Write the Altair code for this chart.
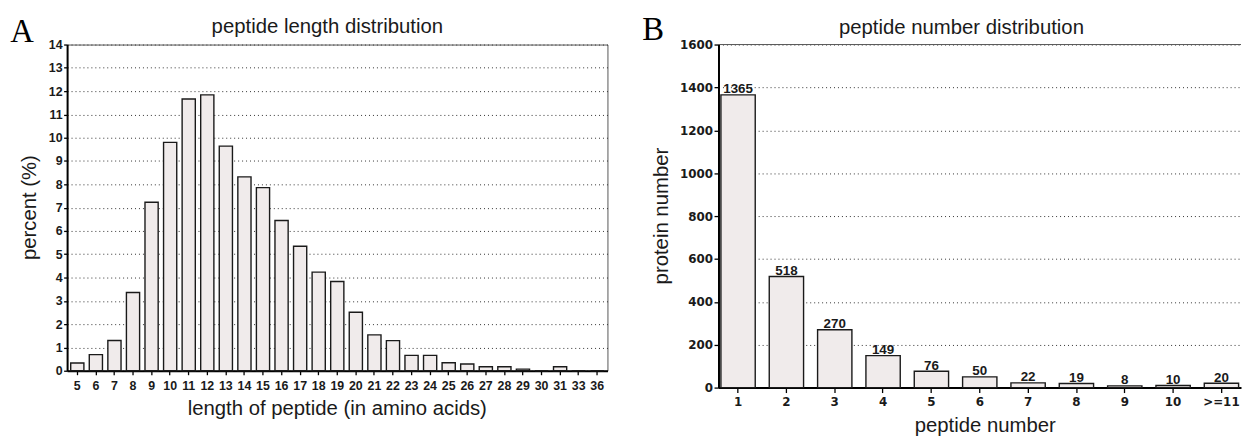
import altair as alt
import pandas as pd

# ---- Panel A data: peptide length distribution ----
lengths = [str(v) for v in range(5, 32)] + ["33", "36"]
percents = [0.33, 0.69, 1.30, 3.36, 7.23, 9.80, 11.66, 11.84, 9.64, 8.32,
            7.86, 6.45, 5.34, 4.23, 3.83, 2.51, 1.54, 1.29, 0.66, 0.66,
            0.34, 0.29, 0.17, 0.17, 0.07, 0.0, 0.17, 0.0, 0.0]
percent_ticks = list(range(0, 15))

# ---- Panel B data: peptide number distribution ----
peptide_numbers = ["1", "2", "3", "4", "5", "6", "7", "8", "9", "10", ">=11"]
protein_counts = [1365, 518, 270, 149, 76, 50, 22, 19, 8, 10, 20]
count_ticks = list(range(0, 1601, 200))

BAR_FILL = "#f0ebeb"
BAR_EDGE = "#1a1a1a"
TXT = "#1a1a1a"
SANS = "Liberation Sans"

W_A, H_A = 545, 329
W_B, H_B = 527, 346

dfA = pd.DataFrame({"length": lengths, "percent": percents})
dfB = pd.DataFrame({"peptides": peptide_numbers, "proteins": protein_counts})
one = pd.DataFrame({"k": [0]})

common_axis = dict(
    domainColor="black", domainWidth=2, tickColor="black", tickWidth=1.3,
    labelColor=TXT, title=None,
)


def txt(text, x, y, size=20.5, font=SANS, angle=0, color=TXT):
    kw = dict(text=text, font=font, fontSize=size, color=color,
              align="center", baseline="alphabetic")
    if angle:
        kw["angle"] = angle
    return alt.Chart(one).mark_text(**kw).encode(x=alt.value(x), y=alt.value(y))


# ---------------- Panel A ----------------
xA = alt.X("length:N", sort=lengths,
           scale=alt.Scale(paddingInner=0.29, paddingOuter=0.195),
           axis=alt.Axis(labelAngle=0, labelFont=SANS, labelFontWeight="bold",
                         labelFontSize=12.5, tickSize=4, labelPadding=5, grid=False,
                         **common_axis))
yA = alt.Y("percent:Q", scale=alt.Scale(domain=[0, 14], nice=False),
           axis=alt.Axis(values=percent_ticks, format="d",
                         labelFont=SANS, labelFontWeight="bold", labelFontSize=12.5,
                         tickSize=3.5, labelPadding=1.5, grid=True,
                         gridDash=[1, 3], gridColor="#333", gridWidth=1,
                         **common_axis))

barsA = alt.Chart(dfA).mark_bar(fill=BAR_FILL, stroke=BAR_EDGE, strokeWidth=1.4).encode(x=xA, y=yA)

panelA = alt.layer(
    barsA,
    txt("A", -45.5, -3, size=33, font="Liberation Serif", color="black"),
    txt("peptide length distribution", W_A / 2 - 10, -12),
    txt("length of peptide (in amino acids)", W_A / 2, H_A + 45),
    txt("percent (%)", -31, H_A / 2, angle=270),
).properties(width=W_A, height=H_A, view=alt.ViewBackground(stroke="#555", strokeWidth=1))

# ---------------- Panel B ----------------
xB = alt.X("peptides:N", sort=peptide_numbers,
           scale=alt.Scale(paddingInner=0.29, paddingOuter=0.05),
           axis=alt.Axis(labelAngle=0, labelFont="DejaVu Sans", labelFontWeight="bold",
                         labelFontSize=12, tickSize=5, labelPadding=4, grid=False,
                         **common_axis))
yB = alt.Y("proteins:Q", scale=alt.Scale(domain=[0, 1600], nice=False),
           axis=alt.Axis(values=count_ticks, format="d",
                         labelFont="DejaVu Sans", labelFontWeight="bold", labelFontSize=12,
                         tickSize=4.5, labelPadding=1.5, grid=True,
                         gridDash=[1, 3], gridColor="#333", gridWidth=1,
                         **common_axis))

barsB = alt.Chart(dfB).mark_bar(fill=BAR_FILL, stroke=BAR_EDGE, strokeWidth=1.4).encode(x=xB, y=yB)
valuesB = alt.Chart(dfB).mark_text(font=SANS, fontWeight="bold", fontSize=13.5, color=TXT,
                                   baseline="alphabetic", dy=-1.5).encode(
    x=xB, y=yB, text=alt.Text("proteins:Q", format="d"))
topB = alt.Chart(one).mark_rule(color="#555", strokeWidth=1).encode(
    x=alt.value(0), x2=alt.value(W_B), y=alt.value(0))

panelB = alt.layer(
    barsB, valuesB, topB,
    txt("B", -66, -5, size=33, font="Liberation Serif", color="black"),
    txt("peptide number distribution", 245, -11),
    txt("peptide number", 269, H_B + 45),
    txt("protein number", -51, H_B / 2, angle=270),
).properties(width=W_B, height=H_B, view=alt.ViewBackground(stroke="transparent"))

chart = alt.hconcat(panelA, panelB, spacing=33).properties(
    padding={"left": 1.6, "top": 3, "right": 0, "bottom": 0}
).configure(font=SANS).configure_view(stroke="#555")

chart.save("out.html", embed_options={"renderer": "svg", "actions": False})
